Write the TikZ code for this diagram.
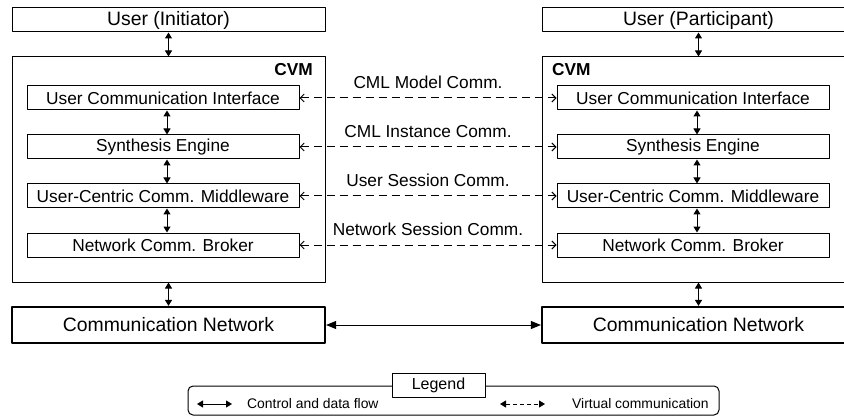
\documentclass[tikz,border=0pt]{standalone}
\usepackage{fontspec}
\setmainfont{Liberation Sans}
\usetikzlibrary{arrows.meta}
\begin{document}
\begin{tikzpicture}[x=1pt, y=-1pt, line join=round,
  box/.style={draw, line width=1pt, inner sep=0pt, font=\fontsize{17.3}{20}\selectfont},
  userbox/.style={box, minimum width=313pt, minimum height=24pt, font=\fontsize{19.4}{22}\selectfont},
  cvmbox/.style={box, minimum width=313pt, minimum height=225pt},
  layer/.style={box, minimum width=272pt, minimum height=24pt},
  netbox/.style={box, line width=2.2pt, minimum width=313pt, minimum height=36pt, font=\fontsize{19.4}{22}\selectfont},
  flow/.style={{Triangle[length=6pt,width=7pt]}-{Triangle[length=6pt,width=7pt]}, line width=1pt},
  bigflow/.style={{Triangle[length=10pt,width=8pt]}-{Triangle[length=10pt,width=8pt]}, line width=1pt},
  virt/.style={{Straight Barb[length=4pt,width=8pt]}-{Straight Barb[length=4pt,width=8pt]}, dash pattern=on 8pt off 5pt, line width=1pt},
  lab/.style={inner sep=0pt, font=\fontsize{17.3}{20}\selectfont},
  legtext/.style={inner sep=0pt, anchor=west, font=\fontsize{13.9}{16}\selectfont}]
 \useasboundingbox (0,0) rectangle (844,417);
 \clip (0,0) rectangle (844,417);
 \node[userbox] (user-i) at (168.5,20) {User (Initiator)};
 \node[userbox] (user-p) at (698.5,20) {User (Participant)};
 \node[cvmbox] (cvm-i) at (168.5,169.5) {};
 \node[cvmbox] (cvm-p) at (698.5,169.5) {};
 \node[lab, anchor=east] (cvmlab-i) at (313,70) {\textbf{CVM}};
 \node[lab, anchor=west] (cvmlab-p) at (552,70) {\textbf{CVM}};
 \foreach \y/\name/\txt in {98/uci/User Communication Interface, 147/se/Synthesis Engine, 196/ucm/User-Centric Comm. Middleware, 245/ncb/Network Comm. Broker}{
  \node[layer] (\name-i) at (163,\y) {\txt};
  \node[layer] (\name-p) at (693,\y) {\txt};
 }
 \foreach \a/\b/\txt in {uci/se/CML Model Comm., se/ucm/CML Instance Comm., ucm/ncb/User Session Comm.}{
  \draw[flow] ([xshift=4pt]\a-i.south) -- ([xshift=4pt]\b-i.north);
  \draw[flow] ([xshift=4pt]\a-p.south) -- ([xshift=4pt]\b-p.north);
  \draw[virt] (\a-i.east) -- node[lab, above=9pt]{\txt} (\a-p.west);
 }
 \draw[virt] (ncb-i.east) -- node[lab, above=9pt]{Network Session Comm.} (ncb-p.west);
 \node[netbox] (net-i) at (168.5,325) {Communication Network};
 \node[netbox] (net-p) at (698.5,325) {Communication Network};
 \draw[flow] (user-i) -- (cvm-i);
 \draw[flow] (user-p) -- (cvm-p);
 \draw[flow] (cvm-i) -- (net-i);
 \draw[flow] (cvm-p) -- (net-p);
 \draw[bigflow] (net-i) -- (net-p);
 \node[draw, line width=1pt, rounded corners=5pt, minimum width=531pt, minimum height=29pt] (legend) at (453.5,400.5) {};
 \node[box, fill=white, minimum width=93pt, minimum height=24pt, font=\fontsize{16}{18}\selectfont] (legtitle) at (438.5,385) {Legend};
 \coordinate (fa) at (197,404);
 \coordinate (fb) at (232,404);
 \coordinate (va) at (500,404);
 \coordinate (vb) at (545,404);
 \draw[flow] (fa) -- (fb);
 \draw[flow, dash pattern=on 4pt off 3pt] (va) -- (vb);
 \node[legtext] (flowtxt) at (247,404) {Control and data flow};
 \node[legtext] (virttxt) at (572,404) {Virtual communication};
\end{tikzpicture}
\end{document}
